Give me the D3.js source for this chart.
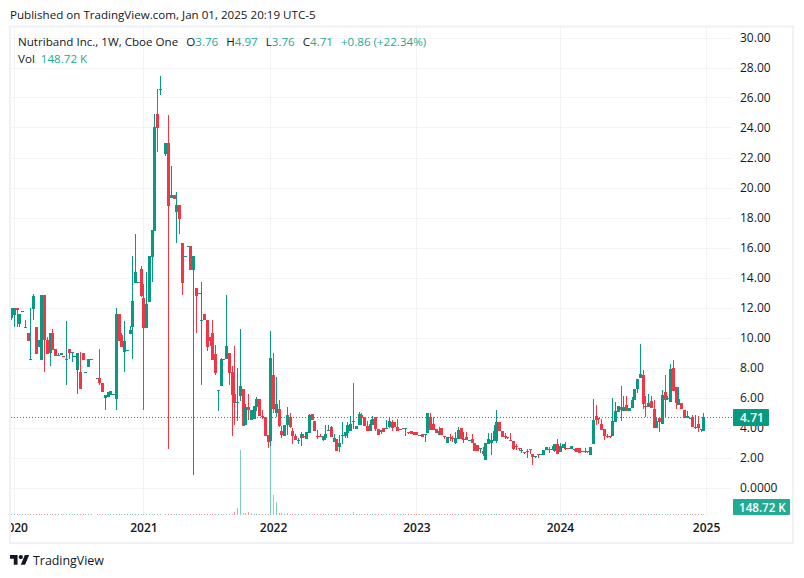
<!DOCTYPE html>
<html>
<head>
<meta charset="utf-8">
<script src="https://cdn.jsdelivr.net/npm/d3@7"></script>
<style>
  html, body { margin: 0; background: #fff; }
  svg { display: block; font-family: "Open Sans", sans-serif; }
  text { fill: #131722; }
</style>
</head>
<body>
<div id="chart"></div>
<script>
"use strict";

// weekly OHLC, one slot per week, null where no bar is drawn
const opens = [
  11.28,11.5,11.94,10.92,11.72,10.68,10.3,8.55,11.92,10.7,9.39,8.5,12.83,9.83,8.96,10.3,9.23,8.78,8.83,8.8,
  8.55,9.23,8.98,8.72,7.83,7.7,8.96,7.66,8.03,8.52,null,7.25,7.27,7,6,6.05,6.16,6.17,5.92,11.56,
  10.16,9.05,9.1,10.23,10.72,13.65,13.63,14.56,12.63,10.65,12.36,15.39,17.12,24.9,26.5,null,22.23,22.96,19.27,19.5,
  18.36,18.83,16.3,15.38,16.05,16.07,14.5,13.3,12.92,11.14,11.56,11.16,10.03,10.3,8.9,6.45,6.77,8.52,8.54,8.96,
  7.7,6.23,5.65,6.1,6.56,4.16,5.36,4.5,4.56,5.36,5.9,4.78,4.7,3.5,3.1,7.5,4.96,5.23,3.76,3.43,
  4.16,4.7,3.76,3.43,3.16,3.3,3.45,3.23,3.65,4.9,4.43,3.42,3.42,3.16,3.3,3.81,4.03,3.03,3.23,2.7,
  3.45,3.43,3.63,3.76,4.43,3.9,4.16,4.83,4.7,4.1,3.76,4.16,4.7,3.9,3.7,3.96,3.94,4.03,4.36,4.36,
  4.03,3.88,3.95,3.92,3.72,3.76,3.7,3.7,3.5,3.56,3.54,3.63,4.7,4.23,3.9,3.5,3.96,3.45,2.97,3.37,
  3.3,2.97,3.23,3.97,3.18,3.37,3.15,3.23,2.97,2.83,2.61,2.43,1.83,2.9,3,3.1,3.1,4.37,3.77,3.43,
  3.35,3.2,3.1,2.77,2.63,2.44,2.38,2.41,2.58,2.23,2.08,2.23,2.21,2.17,2.5,2.58,2.56,2.43,2.9,2.37,
  2.63,2.63,2.63,2.57,2.58,2.63,2.63,2.41,2.44,2.38,2.17,2.9,4.77,4.65,4.23,3.9,3.45,3.41,3.43,4.37,
  5.03,5.37,5.1,5.5,5.1,5.3,5.83,6.57,7.3,7.5,5.42,5.37,5.77,5.23,3.97,4.63,4.23,6.37,5.95,5.7,
  7.97,6.7,5.5,5.63,5.17,4.63,4.62,4.7,4,4.23,3.92,3.76
];
const highs = [
  11.94,11.94,11.94,11.54,11.76,11.16,10.3,11.96,12.9,10.7,9.83,12.83,12.83,10.05,10.3,10.56,9.23,8.95,8.96,8.8,
  11.1,9.23,9.03,8.76,8.96,9.03,8.96,7.7,8.54,8.56,null,7.29,9.23,7,6.2,6.38,6.43,6.21,11.96,11.56,
  10.3,11.1,9.14,10.76,15.43,16.9,13.67,14.76,13.56,14.39,15.43,17.17,24.9,26.56,27.43,null,22.96,24.83,21.43,19.5,
  19.7,18.83,16.3,15.42,16.09,16.07,15.43,13.3,12.96,13.68,11.56,11.16,10.03,11.16,9.5,6.49,8.63,8.56,12.83,8.96,
  8.1,9.43,7.96,10.56,6.56,5.56,6.23,5.16,5.43,6.03,5.9,5.16,4.7,3.5,10.43,8.96,7.37,5.83,4.1,4.16,
  5.36,4.96,4,3.56,3.3,3.7,3.56,3.7,4.9,4.9,4.43,3.83,3.56,3.43,4.16,4.16,4.1,3.56,3.23,3.5,
  4.36,3.7,4.36,4.76,6.96,4.1,5.03,4.94,4.7,4.43,4.5,4.76,4.7,3.9,3.83,3.96,4.5,4.63,4.5,4.36,
  4.56,3.92,3.98,3.96,3.72,3.76,3.7,3.7,3.5,3.56,3.58,4.96,4.96,4.7,3.9,4.03,3.96,3.45,3.37,3.56,
  3.43,3.7,4.03,3.97,3.7,3.7,3.19,3.57,2.97,2.83,2.65,2.7,2.97,3.63,3.63,4.17,5.17,4.37,3.77,3.63,
  3.39,3.63,3.1,2.9,2.63,2.63,2.38,2.57,2.58,2.23,2.12,2.23,2.25,2.5,2.7,2.7,2.77,2.9,3.23,2.97,
  2.9,3.03,2.63,2.77,2.58,2.63,2.63,2.45,2.63,2.42,2.7,5.9,5.5,4.65,4.57,3.9,3.6,3.41,5.97,5.7,
  5.43,6.77,6.1,6.1,5.3,6.03,6.57,7.23,9.57,7.83,6.1,6.23,6.1,5.83,4.7,4.7,6.5,7.5,6.1,8.23,
  8.5,6.7,6.7,5.63,5.17,5.1,4.66,4.83,4.86,4.77,3.92,4.97
];
const lows = [
  11.16,10.7,10.7,10.72,11.72,10.65,9.76,8.54,11.16,8.92,9.39,8.5,7.72,8.92,8.1,9.2,8.76,8.78,8.83,8.75,
  6.83,8.54,8.35,8.72,6.23,6.56,8.5,7.66,8.03,8.52,null,7.25,6.83,6.36,5.16,6.05,6.16,6.17,5.16,9.76,
  9.36,7.7,9.1,10.23,8.56,13.65,13.63,12.72,5.16,10.65,12.36,13.7,17.12,22.36,26.16,null,22.1,2.56,19.27,19.25,
  16.32,16.9,12.83,15.38,16.05,14.5,0.83,10.32,12.92,6.83,11.16,9.1,9.43,8.5,7.5,5.1,6.77,8.52,8.54,6.83,
  3.43,4.16,4.43,5.76,4.1,4.16,4.5,4.5,4.56,5.1,4.76,4.6,3.43,2.65,2.78,5,4.7,4.03,3.3,3.43,
  3.5,3.96,2.9,3.16,2.9,2.76,3.3,3.23,3.65,4.5,3.76,3.23,3.38,3.1,3.2,3.81,3.36,3.03,2.43,2.36,
  2.9,3.3,3.3,3.76,3.9,3.9,4.16,4.16,4.1,3.76,3.76,4.16,3.76,3.5,3.56,3.7,3.9,3.96,3.76,4.03,
  3.76,3.88,3.9,3.43,3.56,3.54,3.5,3.5,3.45,3.36,3.03,3.63,3.83,3.83,3.63,3.5,3.5,3.23,2.95,3.1,
  3.03,2.9,3.23,3.23,3,3.17,3.15,2.97,2.43,2.43,2.3,2.1,1.83,2.9,2.17,3.1,2.97,3.77,3.37,3.23,
  3.23,3.16,2.5,2.5,2.43,2.3,2.23,1.97,2.23,1.5,1.97,1.97,2.21,2.17,2.5,2.3,2.56,2.4,2.23,2.37,
  2.63,2.5,2.6,2.57,2.43,2.37,2.3,2.41,2.3,2.3,2.17,2.9,4.17,4.23,3.83,3.17,3.3,3.3,3.43,4.37,
  5.03,4.43,5.1,5.1,5.1,5.3,5.83,6.3,7.3,5.23,4.7,5.37,5.27,3.97,3.97,3.7,4.23,4.63,5.83,5.7,
  6.43,5.23,5.5,5.23,4.63,4.63,4.62,4.03,3.9,3.7,3.7,3.76
];
const closes = [
  11.94,11.94,11.85,11.54,11.76,10.65,9.76,8.6,12.76,8.92,9.83,12.83,9.83,8.92,10.3,9.2,8.76,8.82,8.96,8.76,
  8.6,8.96,9.02,8.76,8.96,6.56,8.5,7.7,8.54,8.56,null,7.29,6.94,6.36,6.2,6.38,6.43,6.21,11.56,9.76,
  9.36,9.8,9.14,10.5,12.43,14.39,13.67,12.79,10.65,12.23,15.43,17.17,24.03,24,26.54,null,22.96,18.76,19.5,19.25,
  18.83,17.92,13.65,15.42,16.09,14.5,15.43,12.79,12.96,11.18,11.16,9.39,9.76,8.5,7.65,6.49,8.56,8.56,9.43,7.65,
  6.16,5.65,5.69,6.76,4.1,5.36,5.16,5.16,5.43,5.9,4.76,4.74,3.43,3.03,8.63,5.23,5.56,4.1,3.5,4.16,
  4.83,4.03,3.45,3.16,3.2,3.56,3.41,3.7,4.83,4.5,3.76,3.38,3.38,3.43,3.56,3.85,3.36,3.3,2.43,3,
  3.49,3.7,4.16,4.23,4.36,4.1,4.9,4.7,4.1,3.76,4.23,4.6,3.9,3.5,3.83,3.7,3.98,4.43,3.96,4.03,
  3.76,3.92,3.92,3.96,3.68,3.54,3.5,3.5,3.46,3.36,3.58,4.96,3.83,3.83,3.63,3.76,3.5,3.4,3.37,3.33,
  3.26,3.3,3.83,3.23,3.22,3.17,3.19,2.97,2.43,2.43,2.65,2.23,2.97,3.23,3.2,3.77,4.37,3.77,3.37,3.39,
  3.39,3.16,2.57,2.73,2.6,2.48,2.35,2.45,2.55,2.03,2.12,2.2,2.25,2.5,2.7,2.56,2.6,2.9,2.23,2.77,
  2.9,2.61,2.6,2.77,2.55,2.37,2.3,2.45,2.4,2.42,2.7,4.5,4.5,4.6,3.83,3.43,3.41,3.37,4.43,5.1,
  5.43,5.17,5.37,5.1,5.3,5.83,6.57,7.23,7.57,5.57,5.38,5.63,5.27,3.97,4.43,4.37,6.17,5.83,5.99,7.9,
  6.43,5.63,5.9,5.23,4.63,4.77,4.66,4.03,4.05,3.97,3.88,4.71
];
// thousands of shares per week
const volumes = [
  130,130,130,130,130,130,130,130,130,130,130,130,130,130,130,130,130,130,130,130,
  130,130,130,130,130,130,130,130,130,130,null,130,130,130,130,130,130,130,130,130,
  130,130,130,130,130,130,130,130,130,130,130,130,130,130,130,null,130,130,130,130,
  130,130,130,130,130,130,130,130,130,130,130,130,130,130,130,130,130,130,130,130,
  150,450,1050,9750,350,350,450,300,150,130,130,130,130,130,12000,3000,1950,300,300,200,
  300,150,130,130,130,130,130,130,130,130,130,130,130,130,130,130,130,130,130,130,
  130,130,130,130,380,130,130,130,130,130,130,130,130,130,130,130,130,130,130,130,
  130,130,130,130,130,130,130,130,130,130,130,130,130,130,130,130,130,130,130,130,
  130,130,130,130,130,130,130,130,130,130,130,130,130,130,130,130,130,130,130,130,
  130,130,130,130,130,130,130,130,130,130,130,130,130,130,130,130,130,130,130,130,
  130,130,130,130,130,130,130,130,130,130,130,130,130,130,130,130,130,130,130,130,
  130,130,130,130,130,130,130,130,130,130,130,130,130,130,130,130,130,130,130,130,
  130,130,130,130,130,130,130,130,130,130,130,148.72
];
const priceTicks = [30,28,26,24,22,20,18,16,14,12,10,8,6,4,2,0];
const yearLabels = ["2020","2021","2022","2023","2024","2025"];
const yearGridSlots = [1,48,94,147,199,252];
const yearLabelSlots = [1,48,95,147,199,252];
const lastClose = 4.71;
const lastVolume = "148.72 K";
const publishedText = "Published on TradingView.com, Jan 01, 2025 20:19 UTC-5";
const legendTitle = "Nutriband Inc., 1W, Cboe One";
const legendOhlc = [["O","3.76"],["H","4.97"],["L","3.76"],["C","4.71"]];
const legendChange = "+0.86 (+22.34%)";

const green = "#089981";
const legendGreen = "#22ab94";
const red = "#f23645";
const gridColor = "#f3f3f5";
const frameColor = "#f0f1f6";

const width = 804;
const height = 578;
const plotLeft = 10;
const plotRight = 732;
const plotTop = 27;
const volumeBase = 515;

const svg = d3.select("#chart").append("svg").attr("width", width).attr("height", height);

const x = d3.scaleLinear().domain([0, opens.length - 1]).range([11, 703.3]);
const y = d3.scaleLinear().domain([0, 30]).range([487.5, 37.5]);
const yVol = d3.scaleLinear().domain([0, 12000]).range([volumeBase, volumeBase - 80]);

svg.append("defs").append("clipPath").attr("id", "plot-clip")
  .append("rect").attr("x", plotLeft + 1).attr("y", plotTop).attr("width", plotRight - plotLeft).attr("height", 516);

svg.append("text").attr("x", 10).attr("y", 19).style("font-size", "11.6px").text(publishedText);

svg.append("rect")
  .attr("x", 10).attr("y", 26.5).attr("width", 783).attr("height", 516.5)
  .attr("fill", "none").attr("stroke", frameColor).attr("stroke-width", 2);

const plot = svg.append("g").attr("clip-path", "url(#plot-clip)");
const crisp = plot.append("g").attr("shape-rendering", "crispEdges");

crisp.selectAll(".grid-h").data(priceTicks).join("line")
  .attr("class", "grid-h")
  .attr("x1", plotLeft).attr("x2", plotRight)
  .attr("y1", (d) => Math.round(y(d))).attr("y2", (d) => Math.round(y(d)))
  .attr("stroke", gridColor);

crisp.selectAll(".grid-v").data(yearGridSlots).join("line")
  .attr("class", "grid-v")
  .attr("x1", (d) => Math.round(x(d)) + 0.5).attr("x2", (d) => Math.round(x(d)) + 0.5)
  .attr("y1", plotTop).attr("y2", volumeBase)
  .attr("stroke", gridColor);

const slots = d3.range(opens.length).filter((i) => opens[i] !== null);
const isUp = (i) => closes[i] >= opens[i];

crisp.selectAll(".vol").data(slots).join("rect")
  .attr("class", "vol")
  .attr("x", (i) => Math.round(x(i)))
  .attr("width", 1)
  .attr("y", (i) => Math.round(yVol(volumes[i])))
  .attr("height", (i) => volumeBase - Math.round(yVol(volumes[i])))
  .attr("fill", (i) => (isUp(i) ? "rgba(8,153,129,0.5)" : "rgba(242,54,69,0.5)"));

crisp.selectAll(".wick").data(slots).join("rect")
  .attr("class", "wick")
  .attr("x", (i) => Math.round(x(i)))
  .attr("width", 1)
  .attr("y", (i) => y(highs[i]))
  .attr("height", (i) => y(lows[i]) - y(highs[i]))
  .attr("fill", (i) => (isUp(i) ? green : red));

crisp.selectAll(".body").data(slots).join("rect")
  .attr("class", "body")
  .attr("x", (i) => Math.round(x(i)) - 1)
  .attr("width", 3)
  .attr("y", (i) => y(Math.max(opens[i], closes[i])))
  .attr("height", (i) => Math.max(1, Math.abs(y(opens[i]) - y(closes[i]))))
  .attr("fill", (i) => (isUp(i) ? green : red));

plot.append("line")
  .attr("x1", plotLeft + 1).attr("x2", plotRight)
  .attr("y1", Math.round(y(lastClose)) + 0.5).attr("y2", Math.round(y(lastClose)) + 0.5)
  .attr("stroke", green).attr("stroke-dasharray", "1 2");

const timeAxis = plot.append("g")
  .attr("transform", "translate(0,523)")
  .call(d3.axisBottom(x).tickValues(yearLabelSlots).tickFormat((d, i) => yearLabels[i]).tickSize(0).tickPadding(0));
timeAxis.select(".domain").remove();
timeAxis.selectAll("text")
  .style("font-family", '"Open Sans", sans-serif').style("font-size", "12px").style("font-weight", 600);

const priceAxis = svg.append("g")
  .attr("transform", `translate(${plotRight},0)`)
  .call(d3.axisRight(y).tickValues(priceTicks).tickFormat((d) => (d === 0 ? "0.0000" : d.toFixed(2))).tickSize(0).tickPadding(8));
priceAxis.select(".domain").remove();
priceAxis.selectAll("text")
  .style("font-family", '"Open Sans", sans-serif').style("font-size", "12px");

// last value tags on the price scale
svg.append("rect").attr("x", 733).attr("y", 409).attr("width", 36).attr("height", 17).attr("rx", 1).attr("fill", green);
svg.append("text").attr("x", 740).attr("y", 421.5)
  .style("fill", "#fff").style("font-size", "12px").style("font-weight", 600).text(lastClose.toFixed(2));
svg.append("rect").attr("x", 733).attr("y", 499).attr("width", 57).attr("height", 16).attr("rx", 1).attr("fill", legendGreen);
svg.append("text").attr("x", 739).attr("y", 511.5)
  .style("fill", "#fff").style("font-size", "11.6px").style("font-weight", 600).text(lastVolume);

const legend = svg.append("text").attr("x", 18).attr("y", 46).style("font-size", "11.6px");
legend.append("tspan").text(legendTitle);
legendOhlc.forEach(([label, value]) => {
  legend.append("tspan").attr("dx", 8).text(label);
  legend.append("tspan").style("fill", legendGreen).text(value);
});
legend.append("tspan").attr("dx", 8).style("fill", legendGreen).text(legendChange);

const legendVol = svg.append("text").attr("x", 18).attr("y", 63).style("font-size", "11.6px");
legendVol.append("tspan").text("Vol");
legendVol.append("tspan").attr("dx", 6).style("fill", legendGreen).text(lastVolume);

// logo
const logo = svg.append("g").attr("transform", "translate(10,552.8) scale(0.54)").attr("fill", "#131722");
logo.append("path").attr("d", "M14 22H7V11H0V4h14v18zM28 22h-8l7.5-18h8L28 22z");
logo.append("circle").attr("cx", 20).attr("cy", 8).attr("r", 4);
svg.append("text").attr("x", 33).attr("y", 565).style("font-size", "12.4px").text("TradingView");
</script>
</body>
</html>
